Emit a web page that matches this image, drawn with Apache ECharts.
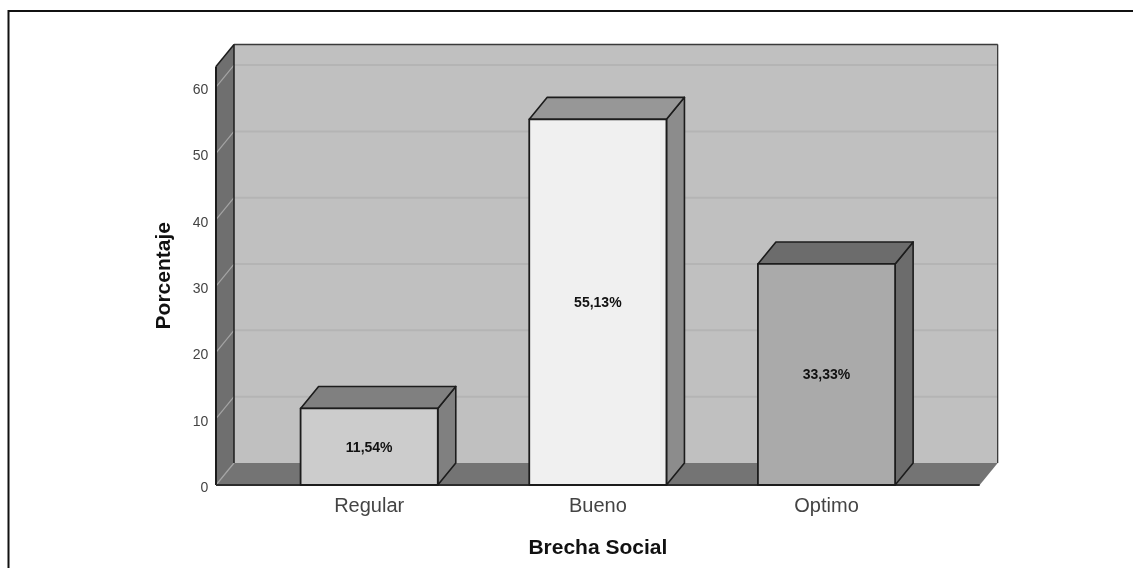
<!DOCTYPE html>
<html>
<head>
<meta charset="utf-8">
<style>html,body{margin:0;padding:0;background:#fff}#c{width:1133px;height:568px;filter:blur(0.45px)}</style>
<script src="https://cdn.jsdelivr.net/npm/echarts@6/dist/echarts.min.js"></script>
</head>
<body>
<div id="c"></div>
<script>
const categories = ['Regular', 'Bueno', 'Optimo'];
const percentages = [11.54, 55.13, 33.33];
const percentLabels = ['11,54%', '55,13%', '33,33%'];
const yTicks = [0, 10, 20, 30, 40, 50, 60];
const yAxisMax = 63.1;
const faceColors = ['#cccccc', '#f0f0f0', '#aaaaaa'];
const topColors = ['#808080', '#979797', '#6c6c6c'];
const sideColors = ['#808080', '#8c8c8c', '#6c6c6c'];

const DX = 18, DY = -22, WALL_PAD = 38.85, EDGE = '#1c1c1c';
const FONT = '"Liberation Sans", Arial, sans-serif';
const chart = echarts.init(document.getElementById('c'), null, {renderer: 'canvas'});

function poly(points, fill, stroke, lw) {
  return {type: 'polygon', shape: {points},
    style: {fill: fill, stroke: stroke || null, lineWidth: lw || 0, lineJoin: 'round'}};
}
function seg(x1, y1, x2, y2, color, lw) {
  return {type: 'line', shape: {x1, y1, x2, y2}, style: {stroke: color, lineWidth: lw, fill: null}};
}

function renderWalls(params, api) {
  const rect = params.coordSys;
  const L = rect.x - WALL_PAD, R = rect.x + rect.width + WALL_PAD;
  const y0 = api.coord([0, 0])[1], yT = api.coord([0, api.value(1)])[1];
  return {type: 'group', children: [
    poly([[L + DX, yT + DY], [R + DX, yT + DY], [R + DX, y0 + DY], [L + DX, y0 + DY]], '#c0c0c0'),
    poly([[L, yT], [L + DX, yT + DY], [L + DX, y0 + DY], [L, y0]], '#6f6f6f'),
    poly([[L, y0], [L + DX, y0 + DY], [R + DX, y0 + DY], [R, y0]], '#747474')
  ]};
}
function renderGrid(params, api) {
  const rect = params.coordSys;
  const L = rect.x - WALL_PAD, R = rect.x + rect.width + WALL_PAD;
  const y = api.coord([0, api.value(1)])[1];
  const kids = [seg(L, y, L + DX, y + DY, '#a4a4a4', 1.2)];
  if (api.value(1) > 0) kids.push(seg(L + DX, y + DY, R + DX, y + DY, '#b4b4b4', 2));
  return {type: 'group', children: kids};
}
function renderEdges(params, api) {
  const rect = params.coordSys;
  const L = rect.x - WALL_PAD, R = rect.x + rect.width + WALL_PAD;
  const y0 = api.coord([0, 0])[1], yT = api.coord([0, api.value(1)])[1];
  return {type: 'group', children: [
    seg(L, yT, L, y0, EDGE, 2),
    seg(L, yT, L + DX, yT + DY, EDGE, 1.5),
    seg(L + DX, yT + DY, R + DX, yT + DY, '#3a3a3a', 1.6),
    seg(L + DX, yT + DY, L + DX, y0 + DY, EDGE, 1.5),
    seg(R + DX, yT + DY, R + DX, y0 + DY, '#2c2c2c', 1.2),
    seg(L, y0, R, y0, '#2c2c2c', 2)
  ]};
}
function renderBar(params, api) {
  const i = api.value(0), v = api.value(1);
  const w = api.size([1, 0])[0] * 0.6;
  const p = api.coord([i, v]), b = api.coord([i, 0]);
  const x1 = p[0] - w / 2, x2 = p[0] + w / 2, yt = p[1], yb = b[1];
  return {type: 'group', children: [
    poly([[x2, yt], [x2 + DX, yt + DY], [x2 + DX, yb + DY], [x2, yb]], sideColors[i], EDGE, 1.6),
    poly([[x1, yt], [x1 + DX, yt + DY], [x2 + DX, yt + DY], [x2, yt]], topColors[i], EDGE, 1.6),
    poly([[x1, yt], [x2, yt], [x2, yb], [x1, yb]], faceColors[i], EDGE, 1.8),
    {type: 'text', style: {text: percentLabels[i], x: p[0], y: (yt + yb) / 2 + 1,
      align: 'center', verticalAlign: 'middle', fill: '#111',
      font: 'bold 14px ' + FONT}}
  ]};
}

chart.setOption({
  animation: false,
  backgroundColor: '#ffffff',
  grid: {left: 254.85, width: 686, top: 66.5, bottom: 83, containLabel: false},
  xAxis: {
    type: 'category', data: categories,
    name: 'Brecha Social', nameLocation: 'middle', nameGap: 53,
    nameTextStyle: {fontFamily: FONT, fontWeight: 'bold', fontSize: 21, color: '#111'},
    axisLine: {show: false}, axisTick: {show: false},
    axisLabel: {fontFamily: FONT, fontSize: 20, color: '#444', margin: 11}
  },
  yAxis: {
    type: 'value', min: 0, max: yAxisMax, interval: 10,
    name: 'Porcentaje', nameLocation: 'middle', nameGap: 80, nameRotate: 90,
    nameTextStyle: {fontFamily: FONT, fontWeight: 'bold', fontSize: 21, color: '#111'},
    axisLine: {show: false}, axisTick: {show: false}, splitLine: {show: false},
    axisLabel: {fontFamily: FONT, fontSize: 14, color: '#444', margin: 46.5,
      customValues: yTicks, verticalAlign: 'top', lineHeight: 6}
  },
  series: [
    {type: 'custom', z: 1, renderItem: renderWalls, data: [[0, yAxisMax]], silent: true},
    {type: 'custom', z: 2, renderItem: renderGrid, data: yTicks.map(t => [0, t]), silent: true},
    {type: 'custom', z: 3, renderItem: renderEdges, data: [[0, yAxisMax]], silent: true},
    {type: 'custom', z: 4, renderItem: renderBar, data: percentages.map((v, i) => [i, v]), silent: true}
  ],
  graphic: [
    {type: 'line', silent: true, shape: {x1: 8, y1: 11, x2: 1133, y2: 11}, style: {stroke: '#111', lineWidth: 2}},
    {type: 'line', silent: true, shape: {x1: 8.5, y1: 10, x2: 8.5, y2: 568}, style: {stroke: '#111', lineWidth: 2}}
  ]
});
</script>
</body>
</html>
